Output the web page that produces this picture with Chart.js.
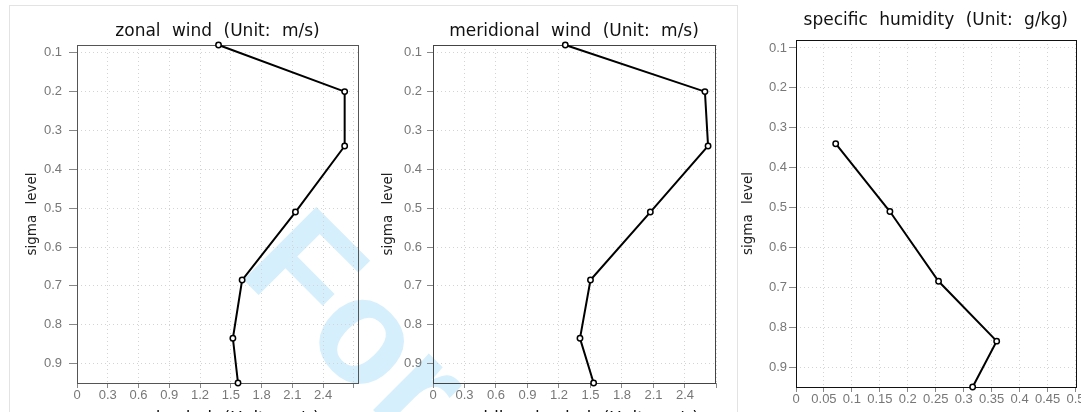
<!DOCTYPE html>
<html>
<head>
<meta charset="utf-8">
<script src="https://cdn.jsdelivr.net/npm/chart.js@4.4.1/dist/chart.umd.min.js"></script>
<style>
  html, body { margin: 0; padding: 0; background: #fff; overflow: hidden; width: 1081px; height: 412px; }
  body { position: relative; }
  .frame { position: absolute; left: 9px; top: 5px; width: 727px; height: 440px;
           border: 1px solid #e3e3e3; border-bottom: none; }
  .mark { position: absolute; left: 326px; top: 183px; font: bold 150px "Liberation Sans", sans-serif;
          line-height: 1; color: #d6effc; transform-origin: 0 0; transform: rotate(45deg); white-space: nowrap; }
  canvas { position: absolute; top: 0; }
</style>
</head>
<body>
<div class="frame"></div>
<div class="mark">For</div>
<canvas id="zonal" width="370" height="440" style="left:0px"></canvas>
<canvas id="meridional" width="370" height="440" style="left:370px"></canvas>
<canvas id="humidity" width="381" height="440" style="left:700px"></canvas>
<script>
// vertical profiles on sigma levels
const sigmaLevels      = [0.08, 0.2, 0.34, 0.51, 0.685, 0.835, 0.95];
const zonalWind        = [1.38, 2.61, 2.61, 2.13, 1.61, 1.52, 1.57];
const meridionalWind   = [1.26, 2.59, 2.62, 2.07, 1.50, 1.40, 1.53];
const specificHumidity = [null, null, 0.071, 0.168, 0.255, 0.359, 0.316];

const sigmaTicks      = [0.1, 0.2, 0.3, 0.4, 0.5, 0.6, 0.7, 0.8, 0.9];
const sigmaTickLabels = ['0.1', '0.2', '0.3', '0.4', '0.5', '0.6', '0.7', '0.8', '0.9'];
const windTicks       = [0, 0.3, 0.6, 0.9, 1.2, 1.5, 1.8, 2.1, 2.4, 2.7];
const windTickLabels  = ['0', '0.3', '0.6', '0.9', '1.2', '1.5', '1.8', '2.1', '2.4', ''];
const humidityTicks      = [0, 0.05, 0.1, 0.15, 0.2, 0.25, 0.3, 0.35, 0.4, 0.45, 0.5];
const humidityTickLabels = ['0', '0.05', '0.1', '0.15', '0.2', '0.25', '0.3', '0.35', '0.4', '0.45', '0.5'];

// outline around the plotting area
const plotBox = {
  id: 'plotBox',
  beforeDatasetsDraw(chart, args, opts) {
    const { ctx, chartArea: a } = chart;
    ctx.save();
    ctx.strokeStyle = opts.color;
    ctx.lineWidth = 1;
    ctx.strokeRect(Math.round(a.left) + 0.5, Math.round(a.top) + 0.5,
                   Math.round(a.right - a.left), Math.round(a.bottom - a.top));
    ctx.restore();
  }
};

// wider gaps between words in titles (plot-style lettering)
const wideWords = {
  id: 'wideWords',
  beforeDraw(chart) { chart.ctx.wordSpacing = '6px'; },
  beforeDatasetsDraw(chart) { chart.ctx.wordSpacing = '0px'; }
};

function profile(values) {
  const pts = [];
  values.forEach((v, i) => { if (v !== null) pts.push({ x: v, y: sigmaLevels[i] }); });
  return pts;
}

function panel(id, p) {
  const tickFont = { family: 'Liberation Sans', size: 13 };
  new Chart(document.getElementById(id), {
    type: 'scatter',
    data: {
      datasets: [{
        data: profile(p.values),
        showLine: true,
        borderColor: '#000',
        borderWidth: 2,
        pointRadius: 2.7,
        pointBorderWidth: 1.5,
        pointBackgroundColor: '#fff',
        pointBorderColor: '#000',
        clip: false
      }]
    },
    plugins: [wideWords, plotBox],
    options: {
      responsive: false,
      animation: false,
      events: [],
      layout: { padding: { left: 0, right: p.padRight, top: 0, bottom: 0 } },
      plugins: {
        legend: { display: false },
        tooltip: { enabled: false },
        plotBox: { color: p.boxColor },
        title: {
          display: true, text: p.title, fullSize: false, color: '#111',
          font: { family: 'DejaVu Sans', size: 17, weight: 'normal', lineHeight: 1.2 },
          padding: { top: p.titleTop, bottom: p.titleBottom }
        }
      },
      scales: {
        x: {
          type: 'linear', position: 'bottom', min: 0, max: p.xMax,
          afterBuildTicks: s => { s.ticks = p.xTicks.map(v => ({ value: v })); },
          afterFit: s => { s.height = p.xAxisHeight; s.paddingLeft = 0; s.paddingRight = 0; },
          ticks: {
            autoSkip: false, maxRotation: 0, minRotation: 0, padding: 0, color: '#777', font: tickFont,
            callback: (v, i) => p.xLabels[i]
          },
          grid: { color: '#d4d4d4', lineWidth: 1, tickLength: 5, tickColor: '#888', tickBorderDash: [] },
          border: { display: false, dash: [1, 3] },
          title: {
            display: !!p.xTitle, text: p.xTitle || '', color: '#111',
            font: { family: 'DejaVu Sans', size: 17, lineHeight: 1.2 },
            padding: { top: 0, bottom: 10 }
          }
        },
        y: {
          type: 'linear', position: 'left', reverse: true, min: 0.08, max: 0.95,
          afterBuildTicks: s => { s.ticks = sigmaTicks.map(v => ({ value: v })); },
          afterFit: s => { s.width = p.yAxisWidth; s.paddingTop = 0; s.paddingBottom = 0; },
          ticks: {
            padding: p.yTickPad, color: '#777', font: tickFont,
            callback: (v, i) => sigmaTickLabels[i]
          },
          grid: { color: '#d4d4d4', lineWidth: 1, tickLength: p.yTickLen, tickColor: '#888', tickBorderDash: [] },
          border: { display: false, dash: [1, 3] },
          title: {
            display: true, text: 'sigma level', color: '#222',
            font: { family: 'DejaVu Sans', size: 13.5, lineHeight: 1.2 },
            padding: { top: p.yTitleOffset, bottom: 0 }
          }
        }
      }
    }
  });
}

panel('zonal', {
  values: zonalWind, title: 'zonal wind (Unit: m/s)', xTitle: 'zonal wind (Unit: m/s)',
  xMax: 2.74, xTicks: windTicks, xLabels: windTickLabels,
  yAxisWidth: 77, padRight: 12, titleTop: 21, titleBottom: 3.6, xAxisHeight: 57,
  yTickLen: 8, yTickPad: 7, yTitleOffset: 24, boxColor: '#555'
});
panel('meridional', {
  values: meridionalWind, title: 'meridional wind (Unit: m/s)', xTitle: 'meridional wind (Unit: m/s)',
  xMax: 2.686, xTicks: windTicks, xLabels: windTickLabels,
  yAxisWidth: 63, padRight: 25, titleTop: 21, titleBottom: 3.6, xAxisHeight: 57,
  yTickLen: 6, yTickPad: 5, yTitleOffset: 10, boxColor: '#444'
});
panel('humidity', {
  values: specificHumidity, title: 'specific humidity (Unit: g/kg)', xTitle: '',
  xMax: 0.5, xTicks: humidityTicks, xLabels: humidityTickLabels,
  yAxisWidth: 96, padRight: 5, titleTop: 10, titleBottom: 9.6, xAxisHeight: 53,
  yTickLen: 7, yTickPad: 2, yTitleOffset: 40, boxColor: '#111'
});
</script>
</body>
</html>
